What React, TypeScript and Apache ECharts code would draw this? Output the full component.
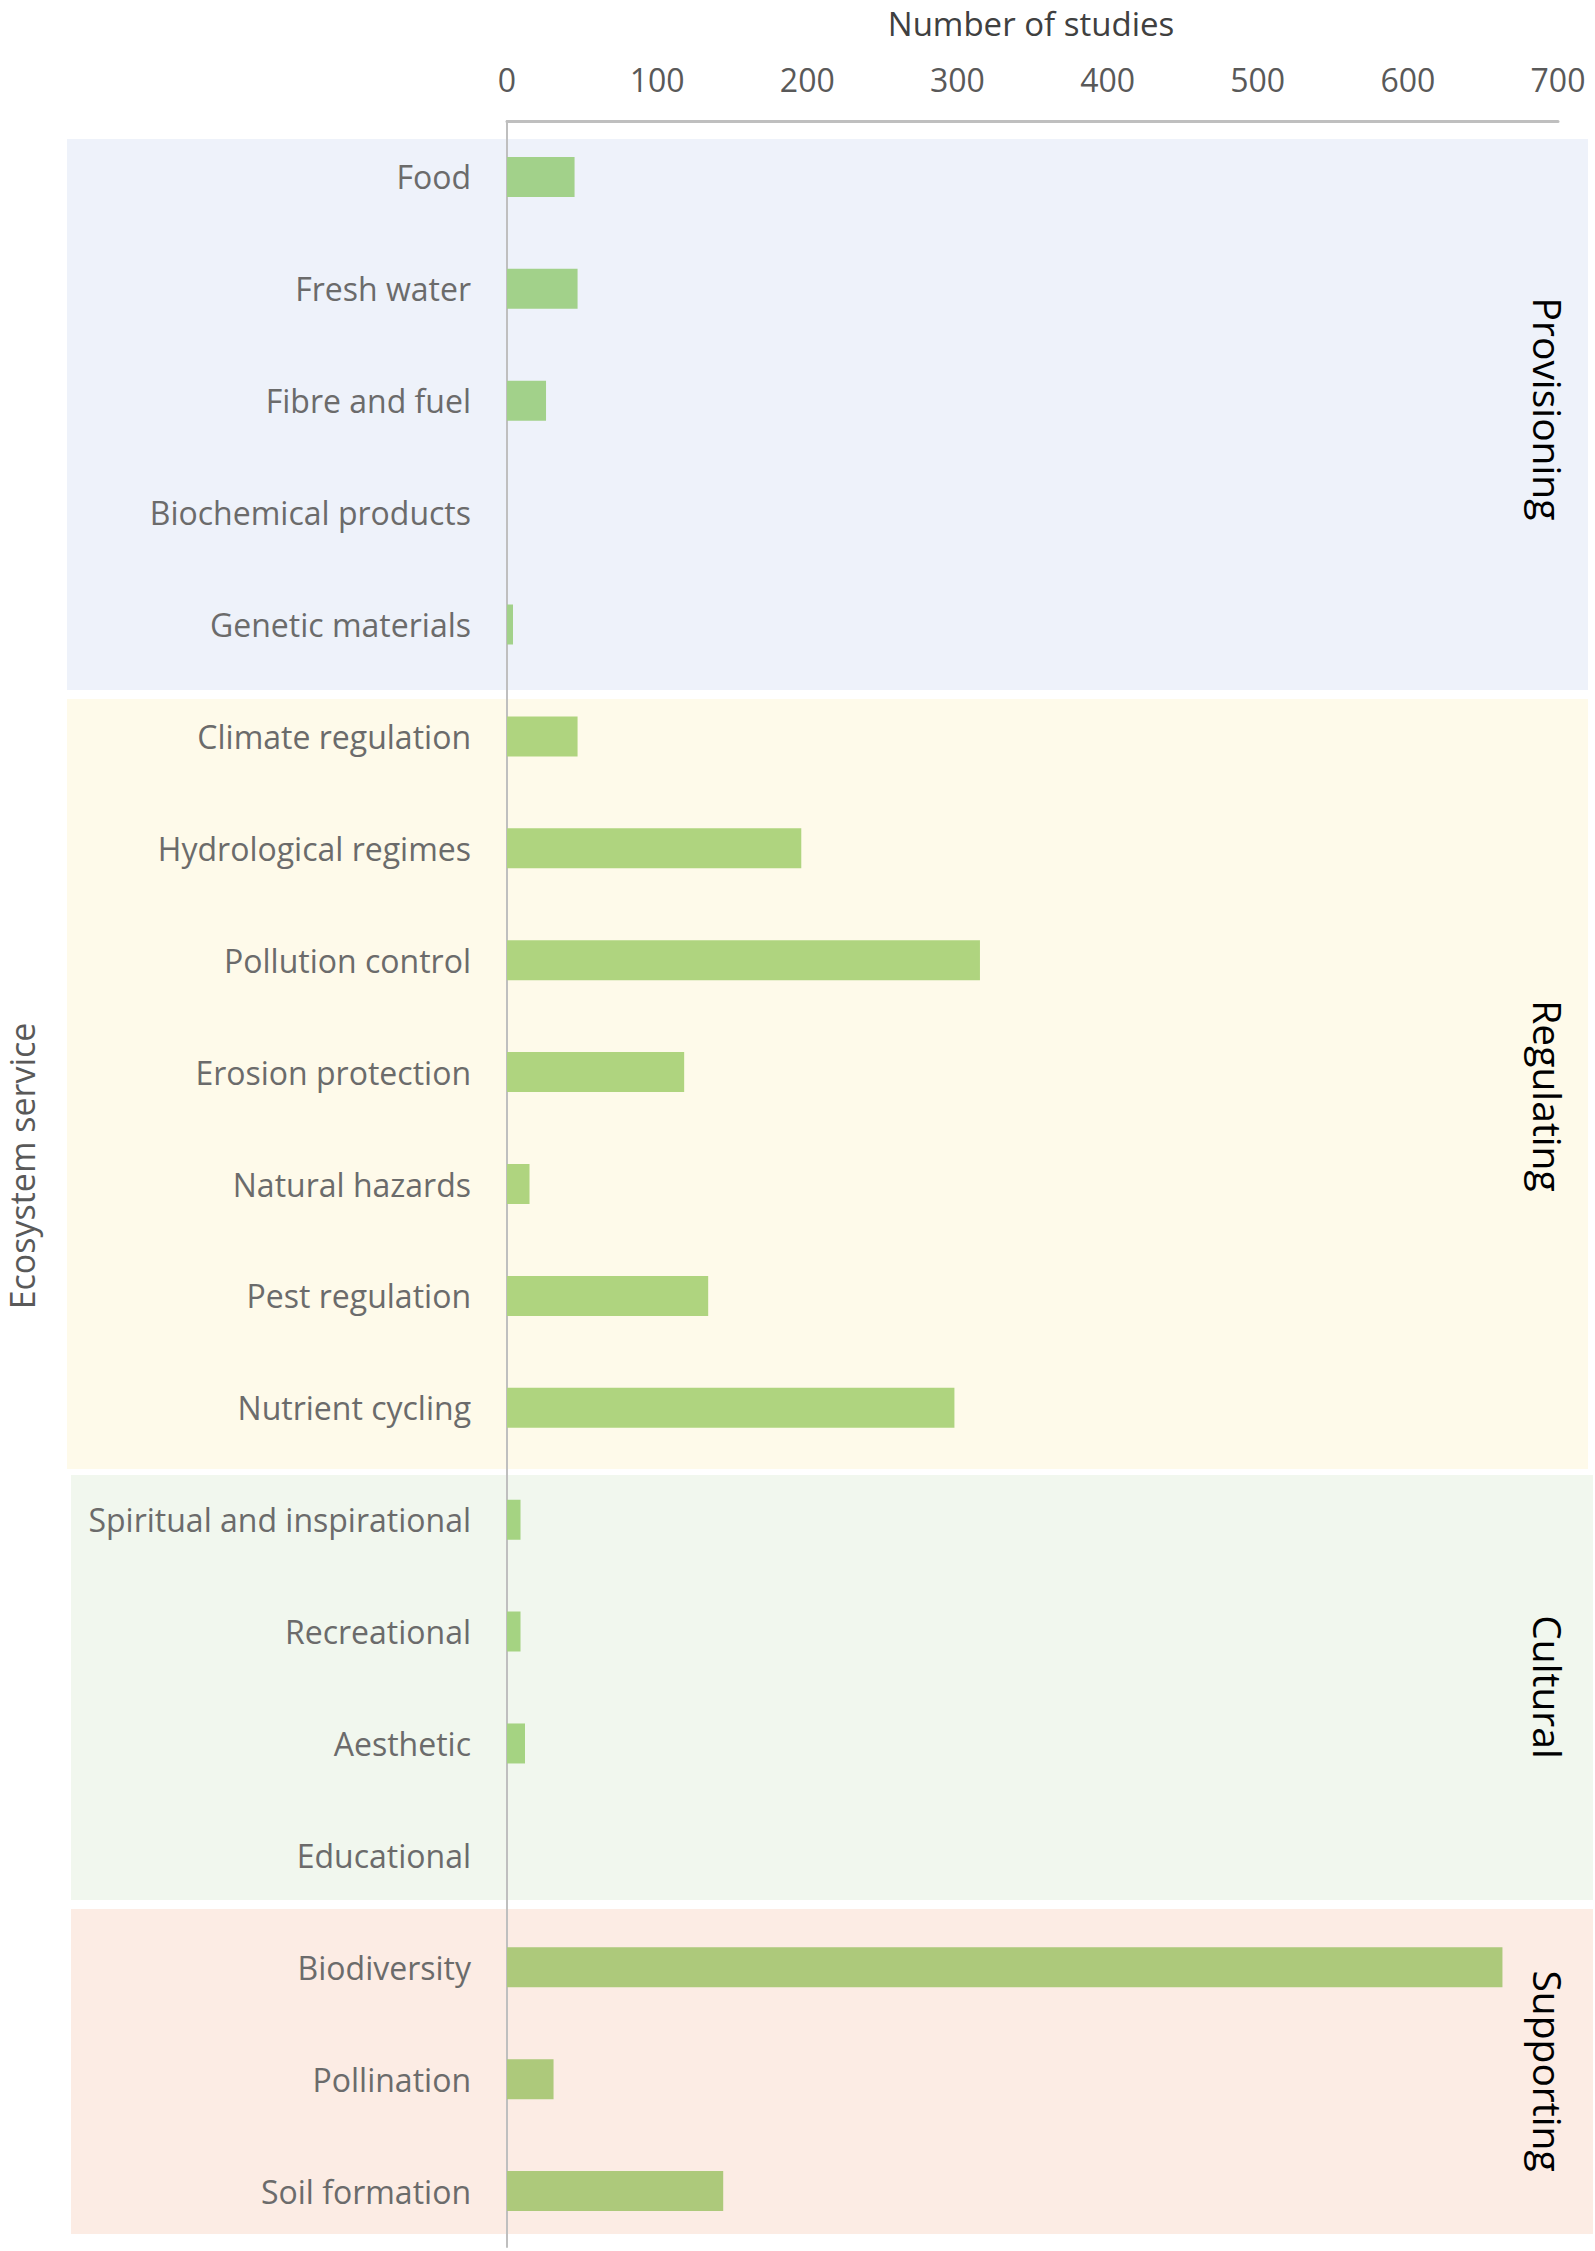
import React, { useEffect, useRef } from "react";
import * as echarts from "echarts";

const categories = [
  "Food",
  "Fresh water",
  "Fibre and fuel",
  "Biochemical products",
  "Genetic materials",
  "Climate regulation",
  "Hydrological regimes",
  "Pollution control",
  "Erosion protection",
  "Natural hazards",
  "Pest regulation",
  "Nutrient cycling",
  "Spiritual and inspirational",
  "Recreational",
  "Aesthetic",
  "Educational",
  "Biodiversity",
  "Pollination",
  "Soil formation",
];

const studies = [45, 47, 26, 0, 4, 47, 196, 315, 118, 15, 134, 298, 9, 9, 12, 0, 663, 31, 144];

const groupOf = [
  "Provisioning", "Provisioning", "Provisioning", "Provisioning", "Provisioning",
  "Regulating", "Regulating", "Regulating", "Regulating", "Regulating", "Regulating", "Regulating",
  "Cultural", "Cultural", "Cultural", "Cultural",
  "Supporting", "Supporting", "Supporting",
];

const groups = ["Provisioning", "Regulating", "Cultural", "Supporting"];

const xTicks = [0, 100, 200, 300, 400, 500, 600, 700];

// styles (not data)
const barColors: Record<string, string> = {
  Provisioning: "#a2d18a",
  Regulating: "#afd47f",
  Cultural: "#a5d382",
  Supporting: "#adc97b",
};
const bandStyles: Record<string, { fill: string; x: number; y: number; w: number; h: number; ty: number }> = {
  Provisioning: { fill: "#eef2fa", x: 67, y: 139, w: 1521, h: 551, ty: 409 },
  Regulating: { fill: "#fefaea", x: 67, y: 699, w: 1521, h: 770, ty: 1096 },
  Cultural: { fill: "#f1f7ee", x: 71, y: 1475, w: 1522, h: 425, ty: 1687 },
  Supporting: { fill: "#fcece4", x: 71, y: 1909, w: 1522, h: 325, ty: 2071 },
};

const FONT = "'Open Sans', 'Noto Sans', sans-serif";

export default function App() {
  const ref = useRef<HTMLDivElement>(null);

  useEffect(() => {
    if (!ref.current) return;
    const chart = echarts.init(ref.current, undefined, { renderer: "svg" });

    const graphics: any[] = [];
    groups.forEach((g) => {
      const b = bandStyles[g];
      graphics.push({
        type: "rect",
        z: -10,
        shape: { x: b.x, y: b.y, width: b.w, height: b.h },
        style: { fill: b.fill },
        silent: true,
      });
    });
    groups.forEach((g) => {
      const b = bandStyles[g];
      graphics.push({
        type: "text",
        z: 10,
        x: 1548,
        y: b.ty,
        rotation: -Math.PI / 2,
        style: {
          text: g,
          fill: "#000000",
          font: `39px ${FONT}`,
          align: "center",
          verticalAlign: "middle",
        },
      });
    });
    graphics.push({
      type: "text",
      z: 10,
      x: 22,
      y: 1166,
      rotation: Math.PI / 2,
      style: {
        text: "Ecosystem service",
        fill: "#595959",
        font: `34px ${FONT}`,
        align: "center",
        verticalAlign: "middle",
      },
    });
    graphics.push({
      type: "text",
      z: 10,
      x: 1031,
      y: 23,
      style: {
        text: "Number of studies",
        fill: "#404040",
        font: `33px ${FONT}`,
        align: "center",
        verticalAlign: "middle",
      },
    });

    chart.setOption({
      animation: false,
      backgroundColor: "#ffffff",
      grid: { left: 507, right: 37, top: 121, bottom: 4, containLabel: false },
      xAxis: {
        type: "value",
        position: "top",
        min: xTicks[0],
        max: xTicks[xTicks.length - 1],
        interval: 100,
        axisLine: { show: true, lineStyle: { color: "#bfbfbf", width: 3 } },
        axisTick: { show: false },
        splitLine: { show: false },
        axisLabel: {
          margin: 26,
          fontSize: 32,
          fontFamily: FONT,
          color: "#595959",
        },
      },
      yAxis: {
        type: "category",
        inverse: true,
        data: categories,
        axisLine: { show: true, lineStyle: { color: "#bfbfbf", width: 2 } },
        axisTick: { show: false },
        axisLabel: {
          margin: 36,
          fontSize: 32,
          fontFamily: FONT,
          color: "#6b6b6b",
        },
      },
      series: [
        {
          type: "bar",
          barWidth: 40,
          data: studies.map((v, i) => ({
            value: v,
            itemStyle: { color: barColors[groupOf[i]] },
          })),
        },
      ],
      graphic: graphics,
    });

    return () => chart.dispose();
  }, []);

  return (
    <div
      ref={ref}
      style={{ position: "absolute", left: 0, top: 0, width: 1595, height: 2251 }}
    />
  );
}
